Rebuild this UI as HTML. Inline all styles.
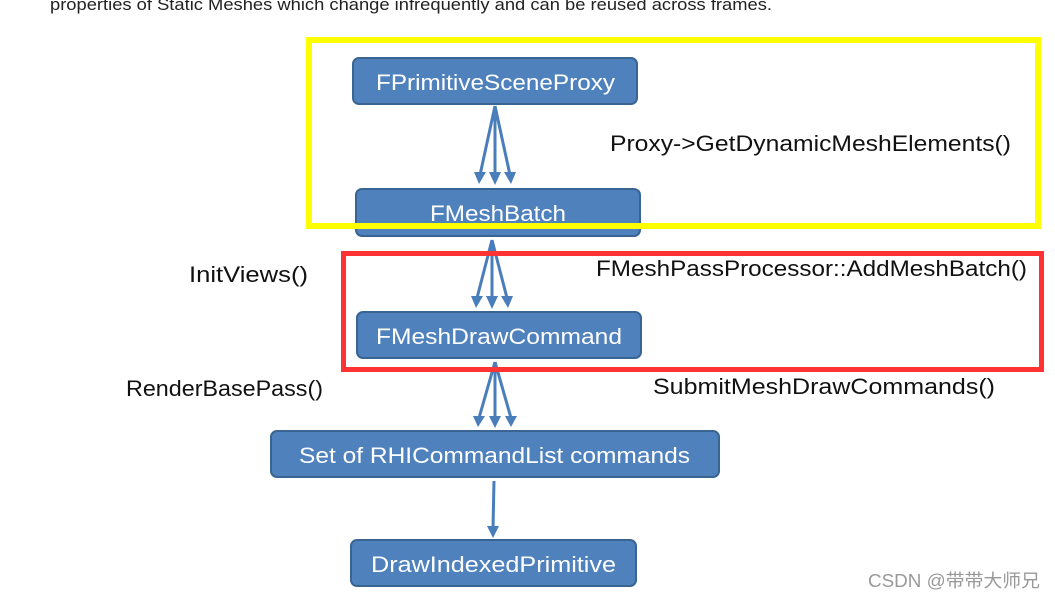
<!DOCTYPE html>
<html><head><meta charset="utf-8"><style>
html,body{margin:0;padding:0;background:#fff;width:1055px;height:599px;overflow:hidden}
svg{display:block}
.b{fill:#4f81bd;stroke:#3a6593;stroke-width:2}
.w{fill:#fff;font-family:"Liberation Sans",sans-serif;font-size:22px}
.k{fill:#111;font-family:"Liberation Sans",sans-serif;font-size:22px}
.a{stroke:#4a7ebb;stroke-width:3;fill:none}
.h{fill:#4a7ebb}
</style></head><body>
<svg width="1055" height="599" viewBox="0 0 1055 599">
<text x="50" y="10" font-family="Liberation Sans, sans-serif" font-size="17" fill="#222" textLength="722" lengthAdjust="spacingAndGlyphs">properties of Static Meshes which change infrequently and can be reused across frames.</text>
<rect class="b" x="353" y="58" width="284" height="46" rx="6"/>
<text class="w" x="376" y="90" textLength="239" lengthAdjust="spacingAndGlyphs">FPrimitiveSceneProxy</text>
<rect class="b" x="356" y="189" width="284" height="47" rx="6"/>
<text class="w" x="430" y="221" textLength="136" lengthAdjust="spacingAndGlyphs">FMeshBatch</text>
<rect class="b" x="357" y="312" width="284" height="46" rx="6"/>
<text class="w" x="376" y="344" textLength="246" lengthAdjust="spacingAndGlyphs">FMeshDrawCommand</text>
<rect class="b" x="271" y="431" width="448" height="46" rx="6"/>
<text class="w" x="299" y="463" textLength="391" lengthAdjust="spacingAndGlyphs">Set of RHICommandList commands</text>
<rect class="b" x="351" y="540" width="285" height="46" rx="6"/>
<text class="w" x="371" y="572" textLength="245" lengthAdjust="spacingAndGlyphs">DrawIndexedPrimitive</text>
<g>
<line class="a" x1="495" y1="106" x2="480" y2="175"/><line class="a" x1="495" y1="106" x2="495" y2="175"/><line class="a" x1="495" y1="106" x2="510" y2="175"/>
<polygon class="h" points="474,172 486,172 479,184"/><polygon class="h" points="489,172 501,172 495,185"/><polygon class="h" points="504,172 516,172 511,184"/>
<line class="a" x1="492" y1="240" x2="477" y2="298"/><line class="a" x1="492" y1="240" x2="492" y2="298"/><line class="a" x1="492" y1="240" x2="507" y2="298"/>
<polygon class="h" points="471,296 483,296 476,308"/><polygon class="h" points="486,296 498,296 492,309"/><polygon class="h" points="501,296 513,296 508,308"/>
<line class="a" x1="495" y1="362" x2="479" y2="418"/><line class="a" x1="495" y1="362" x2="495" y2="418"/><line class="a" x1="495" y1="362" x2="511" y2="418"/>
<polygon class="h" points="473,416 485,416 478,427"/><polygon class="h" points="489,416 501,416 495,428"/><polygon class="h" points="505,416 517,416 511,427"/>
<line class="a" x1="494" y1="481" x2="493" y2="528"/>
<polygon class="h" points="487,526 499,526 493,538"/>
</g>
<rect x="309" y="40" width="729" height="186" fill="none" stroke="#ffff00" stroke-width="6"/>
<rect x="343.5" y="253.5" width="698" height="116" fill="none" stroke="#ff3333" stroke-width="5"/>
<text class="k" x="610" y="151" textLength="401" lengthAdjust="spacingAndGlyphs">Proxy-&gt;GetDynamicMeshElements()</text>
<text class="k" x="189" y="282" textLength="119" lengthAdjust="spacingAndGlyphs">InitViews()</text>
<text class="k" x="596" y="276" textLength="431" lengthAdjust="spacingAndGlyphs">FMeshPassProcessor::AddMeshBatch()</text>
<text class="k" x="126" y="396" textLength="197" lengthAdjust="spacingAndGlyphs">RenderBasePass()</text>
<text class="k" x="653" y="394" textLength="342" lengthAdjust="spacingAndGlyphs">SubmitMeshDrawCommands()</text>
<text x="868" y="587" font-family="Liberation Sans, Noto Sans CJK SC, sans-serif" font-size="18" fill="#999" textLength="172" lengthAdjust="spacingAndGlyphs">CSDN @带带大师兄</text>
</svg>
</body></html>
